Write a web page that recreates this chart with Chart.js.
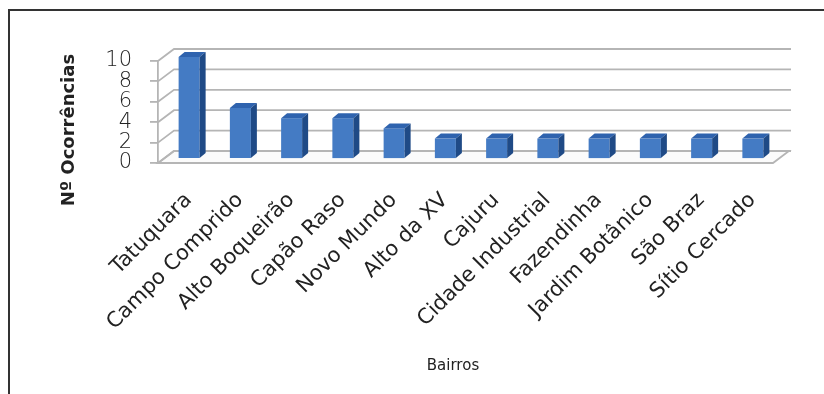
<!DOCTYPE html>
<html>
<head>
<meta charset="utf-8">
<script src="https://cdn.jsdelivr.net/npm/chart.js@4"></script>
<style>
  html, body { margin: 0; padding: 0; background: #fff; }
  canvas { display: block; }
</style>
</head>
<body>
<canvas id="bairros-chart" width="824" height="394"></canvas>
<script>
// Ocorrencias por bairro
const bairros = [
  'Tatuquara', 'Campo Comprido', 'Alto Boqueirão', 'Capão Raso', 'Novo Mundo',
  'Alto da XV', 'Cajuru', 'Cidade Industrial', 'Fazendinha', 'Jardim Botânico',
  'São Braz', 'Sítio Cercado'
];
const ocorrencias = [10, 5, 4, 4, 3, 2, 2, 2, 2, 2, 2, 2];
const yTicks = [0, 2, 4, 6, 8, 10];

// efeito 3D (parede do fundo, plano das barras, profundidade das barras)
const WALL = { x: 16, y: -12 };
const BAR_SHIFT = { x: 5.5, y: -4 };
const BAR_DEPTH = { x: 6, y: -5 };

const GRID_COLOR = '#b5b5b5';
const FRONT_COLOR = '#447bc4';
const TOP_COLOR = '#2f63ae';
const SIDE_COLOR = '#1f4a86';

function poly(ctx, pts, fill) {
  ctx.beginPath();
  ctx.moveTo(pts[0][0], pts[0][1]);
  for (let i = 1; i < pts.length; i++) ctx.lineTo(pts[i][0], pts[i][1]);
  ctx.closePath();
  ctx.fillStyle = fill;
  ctx.fill();
}

const frame3d = {
  id: 'frame3d',
  beforeDraw(chart) {
    const ctx = chart.ctx;
    // moldura (so topo e esquerda)
    ctx.save();
    ctx.strokeStyle = '#333';
    ctx.lineWidth = 2;
    ctx.beginPath();
    ctx.moveTo(9, 394);
    ctx.lineTo(9, 10);
    ctx.lineTo(824, 10);
    ctx.stroke();
    ctx.restore();
  },
  beforeDatasetsDraw(chart) {
    const ctx = chart.ctx;
    const { left, right } = chart.chartArea;
    const y = chart.scales.y;
    const y0 = y.getPixelForValue(0);

    ctx.save();
    ctx.strokeStyle = GRID_COLOR;
    ctx.lineWidth = 1.8;

    // piso
    ctx.beginPath();
    ctx.moveTo(left, y0);
    ctx.lineTo(right, y0);
    ctx.lineTo(right + WALL.x, y0 + WALL.y);
    ctx.lineTo(left + WALL.x, y0 + WALL.y);
    ctx.closePath();
    ctx.fillStyle = '#fbfbfb';
    ctx.fill();
    ctx.stroke();

    // linhas de grade na parede do fundo + parede lateral
    yTicks.forEach(v => {
      const py = y.getPixelForValue(v);
      ctx.beginPath();
      ctx.moveTo(left, py);
      ctx.lineTo(left + WALL.x, py + WALL.y);
      ctx.lineTo(right + WALL.x + 2, py + WALL.y);
      ctx.stroke();
    });
    ctx.restore();

    // barras ficam no plano do meio
    ctx.save();
    ctx.translate(BAR_SHIFT.x, BAR_SHIFT.y);
  },
  afterDatasetsDraw(chart) {
    const ctx = chart.ctx;
    const meta = chart.getDatasetMeta(0);
    meta.data.forEach(bar => {
      const { x, y, base, width } = bar.getProps(['x', 'y', 'base', 'width'], true);
      const l = x - width / 2;
      const r = x + width / 2;
      poly(ctx, [[l, y], [r, y], [r + BAR_DEPTH.x, y + BAR_DEPTH.y], [l + BAR_DEPTH.x, y + BAR_DEPTH.y]], TOP_COLOR);
      poly(ctx, [[r, y], [r + BAR_DEPTH.x, y + BAR_DEPTH.y], [r + BAR_DEPTH.x, base + BAR_DEPTH.y], [r, base]], SIDE_COLOR);
    });
    ctx.restore();
  },
  afterDraw(chart) {
    const ctx = chart.ctx;
    ctx.save();
    ctx.fillStyle = '#222';
    ctx.textAlign = 'center';
    ctx.textBaseline = 'middle';

    ctx.font = '15px "DejaVu Sans"';
    ctx.fillText('Bairros', 453, 366);

    ctx.translate(69, 130);
    ctx.rotate(-Math.PI / 2);
    ctx.font = 'bold 18px "DejaVu Sans"';
    ctx.fillText('Nº Ocorrências', 0, 0);
    ctx.restore();
  }
};

new Chart(document.getElementById('bairros-chart'), {
  type: 'bar',
  data: {
    labels: bairros,
    datasets: [{
      label: 'Nº Ocorrências',
      data: ocorrencias,
      backgroundColor: FRONT_COLOR,
      borderWidth: 0,
      categoryPercentage: 1,
      barPercentage: 0.41,
      clip: false
    }]
  },
  options: {
    responsive: false,
    animation: false,
    devicePixelRatio: 1,
    layout: { padding: { left: 0, top: 61, right: 51, bottom: 0 } },
    plugins: {
      legend: { display: false },
      tooltip: { enabled: false }
    },
    scales: {
      x: {
        grid: { display: false, drawTicks: false },
        border: { display: false },
        ticks: {
          autoSkip: false,
          minRotation: 45,
          maxRotation: 45,
          padding: 25,
          labelOffset: 5,
          color: '#222',
          font: { family: 'DejaVu Sans', size: 21 }
        },
        afterFit: s => { s.height = 231; }
      },
      y: {
        min: 0,
        max: 10,
        afterBuildTicks: s => { s.ticks = yTicks.map(v => ({ value: v })); },
        grid: {
          drawOnChartArea: false,
          drawTicks: true,
          tickLength: 8,
          color: GRID_COLOR,
          lineWidth: 1.8
        },
        border: { display: true, color: GRID_COLOR, width: 1.8 },
        ticks: {
          autoSkip: false,
          padding: 18,
          color: '#222',
          font: { family: 'DejaVu Sans', size: 21, weight: 200 }
        },
        afterFit: s => { s.width = 158; }
      }
    }
  },
  plugins: [frame3d]
});
</script>
</body>
</html>
